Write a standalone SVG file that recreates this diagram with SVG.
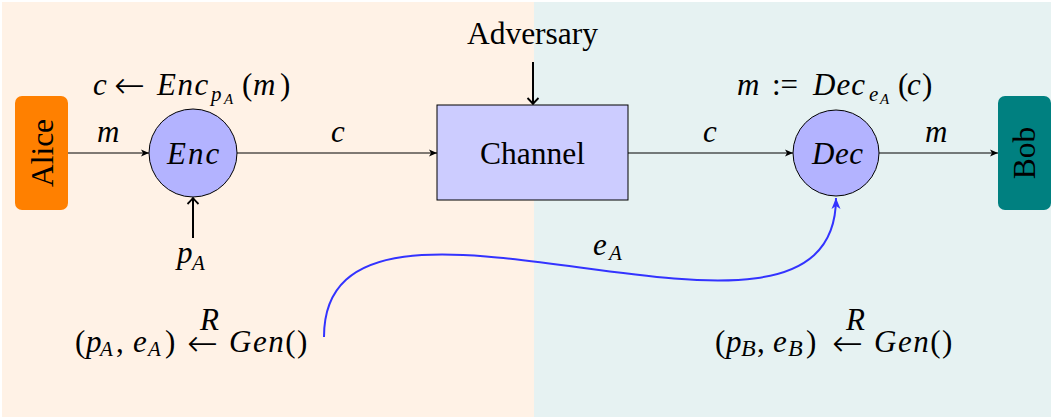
<svg xmlns="http://www.w3.org/2000/svg" width="1053" height="419" viewBox="0 0 1053 419">
<style>
.rm{font-family:"Liberation Serif","DejaVu Serif",serif;font-size:31.5px;fill:#000}
.mi{font-family:"Liberation Serif","DejaVu Serif",serif;font-style:italic;font-size:31px;fill:#000}
.up{font-style:normal}
.ar{font-family:"DejaVu Sans",sans-serif;font-style:normal;font-weight:200}
.sb{font-size:21px}
.ssb{font-size:15px}
.edge{fill:none;stroke:#000;stroke-width:1}
.thick{fill:none;stroke:#000;stroke-width:2}
</style>
<defs>
<marker id="tri" markerUnits="userSpaceOnUse" markerWidth="12" markerHeight="10" refX="9" refY="5" orient="auto">
<path d="M1,1.6 L9,5 L1,8.4 L3,5 Z" fill="#000"/>
</marker>
<marker id="chev" markerUnits="userSpaceOnUse" markerWidth="14" markerHeight="14" refX="10" refY="7" orient="auto">
<path d="M4,1.5 Q8,5.5 10,7 Q8,8.5 4,12.5" fill="none" stroke="#000" stroke-width="1.8"/>
</marker>
<marker id="blu" markerUnits="userSpaceOnUse" markerWidth="14" markerHeight="12" refX="11" refY="6" orient="auto">
<path d="M0,1.5 L11,6 L0,10.5 L3,6 Z" fill="#3333ff"/>
</marker>
</defs>

<rect x="0" y="0" width="1053" height="419" fill="#fff"/>
<rect id="alice-side" x="2" y="2" width="532" height="415" fill="#fff2e6"/>
<rect id="bob-side" x="534" y="2" width="517" height="415" fill="#e6f2f2"/>

<g id="connectors">
<line class="edge" x1="68" y1="153" x2="149" y2="153" marker-end="url(#tri)"/>
<line class="edge" x1="237" y1="153" x2="437" y2="153" marker-end="url(#tri)"/>
<line class="edge" x1="628" y1="153" x2="793" y2="153" marker-end="url(#tri)"/>
<line class="edge" x1="879" y1="153" x2="998" y2="153" marker-end="url(#tri)"/>
<line class="thick" x1="533" y1="62" x2="533" y2="104" marker-end="url(#chev)"/>
<line class="thick" x1="193" y1="238" x2="193" y2="198" marker-end="url(#chev)"/>
<path d="M324,337 C324,129 836,406 836,198" fill="none" stroke="#3333ff" stroke-width="2" marker-end="url(#blu)"/>
<text class="mi" x="97" y="142" font-size="32">m</text>
<text class="mi" x="338" y="142" text-anchor="middle" font-size="32">c</text>
<text class="mi" x="710" y="142" text-anchor="middle" font-size="32">c</text>
<text class="mi" x="925" y="142" font-size="32">m</text>
<text class="mi" x="593" y="255" font-size="32">e<tspan class="sb" x="609" y="260">A</tspan></text>
</g>

<g id="alice">
<rect x="15" y="96" width="53" height="114" rx="7" fill="#ff8000"/>
<text class="rm" transform="translate(52.5,153) rotate(-90)" text-anchor="middle">Alice</text>
</g>

<g id="bob">
<rect x="998" y="96" width="53" height="114" rx="7" fill="#008080"/>
<text class="rm" transform="translate(1035,153) rotate(-90)" text-anchor="middle">Bob</text>
</g>

<g id="enc">
<circle cx="193" cy="153" r="44" fill="#b3b3ff" stroke="#000" stroke-width="1"/>
<text class="mi" x="167" y="164" font-size="32" letter-spacing="2">Enc</text>
<text class="mi" x="93" y="95" font-size="32">c<tspan class="ar" x="114" y="98" font-size="37">←</tspan><tspan x="157" y="95" letter-spacing="1.5">Enc</tspan><tspan class="sb" x="211" y="101">p</tspan><tspan class="ssb" x="224" y="104">A</tspan><tspan class="up" x="242" y="95">(</tspan><tspan x="253" y="95">m</tspan><tspan class="up" x="280" y="95">)</tspan></text>
</g>

<g id="pA">
<text class="mi" x="177" y="263" font-size="32">p<tspan class="sb" x="192" y="270">A</tspan></text>
</g>

<g id="channel">
<rect x="437" y="105" width="191" height="95" fill="#ccccff" stroke="#000" stroke-width="1"/>
<text class="rm" x="532.5" y="164" text-anchor="middle">Channel</text>
</g>

<g id="adversary">
<text class="rm" x="532.5" y="44" text-anchor="middle">Adversary</text>
</g>

<g id="dec">
<circle cx="836" cy="153" r="43" fill="#b3b3ff" stroke="#000" stroke-width="1"/>
<text class="mi" x="812" y="164" font-size="32" letter-spacing="0.5">Dec</text>
<text class="mi" x="737" y="95" font-size="32">m<tspan class="up" x="772" y="95">:=</tspan><tspan x="813" y="95" letter-spacing="1">Dec</tspan><tspan class="sb" x="869" y="101">e</tspan><tspan class="ssb" x="880" y="104">A</tspan><tspan class="up" x="898" y="95">(</tspan><tspan x="907" y="95">c</tspan><tspan class="up" x="922" y="95">)</tspan></text>
</g>

<g id="genA">
<text class="mi" x="75" y="352" font-size="32"><tspan class="up">(</tspan><tspan x="86">p</tspan><tspan class="sb" x="100" y="356">A</tspan><tspan class="up" x="116" y="352">,</tspan><tspan x="133">e</tspan><tspan class="sb" x="148" y="356">A</tspan><tspan class="up" x="165" y="352">)</tspan></text>
<text class="mi" x="200" y="330" font-size="21">R<tspan class="ar" x="187" y="356" font-size="37">←</tspan></text>
<text class="mi" x="229" y="352" font-size="32" letter-spacing="1.5">Gen<tspan class="up">()</tspan></text>
</g>

<g id="genB">
<text class="mi" x="715" y="352" font-size="32"><tspan class="up">(</tspan><tspan x="726">p</tspan><tspan x="741" y="356" font-size="24">B</tspan><tspan class="up" x="757" y="352">,</tspan><tspan x="773">e</tspan><tspan x="788" y="356" font-size="24">B</tspan><tspan class="up" x="806" y="352">)</tspan></text>
<text class="mi" x="846" y="330" font-size="21">R<tspan class="ar" x="832" y="356" font-size="37">←</tspan></text>
<text class="mi" x="874" y="352" font-size="32" letter-spacing="1.5">Gen<tspan class="up">()</tspan></text>
</g>
</svg>
